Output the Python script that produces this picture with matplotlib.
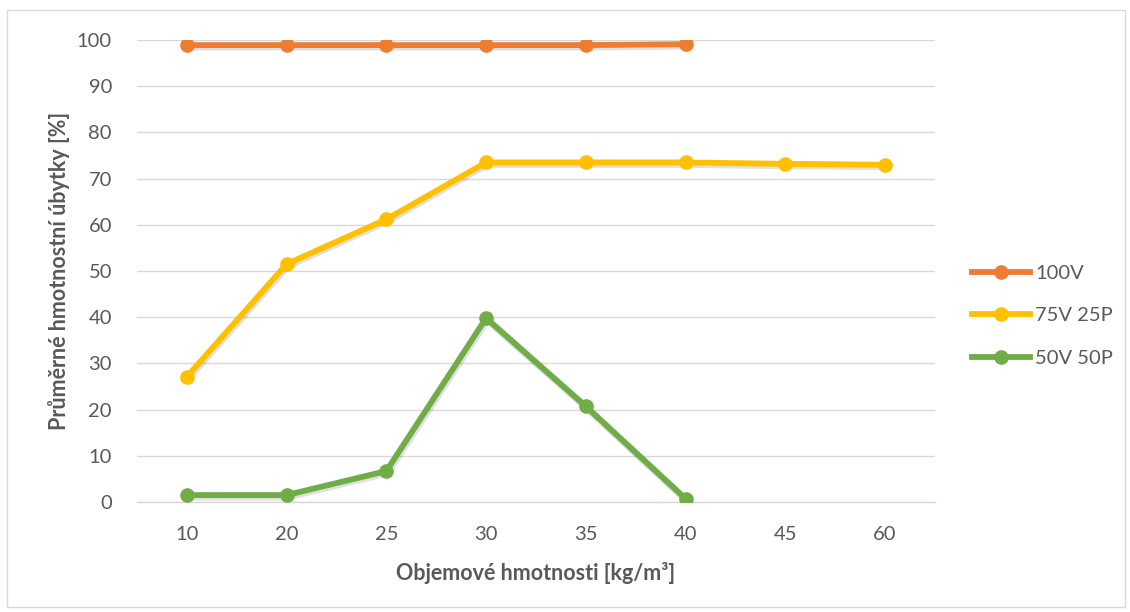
import matplotlib
matplotlib.use("Agg")
import matplotlib.pyplot as plt
import matplotlib.patheffects as pe
from matplotlib.patches import Rectangle

# Bulk density categories (kg/m3) and mean mass loss (%) per mixture
densities = ["10", "20", "25", "30", "35", "40", "45", "60"]
loss_100v = [98.9, 98.9, 98.9, 98.9, 98.9, 99.1]
loss_75v25p = [27.1, 51.5, 61.2, 73.5, 73.5, 73.5, 73.2, 73.0]
loss_50v50p = [1.5, 1.5, 6.7, 39.8, 20.7, 0.7]
series_names = ["100V", "75V 25P", "50V 50P"]
series_colors = ["#ED7D31", "#FFC000", "#70AD47"]

plt.rcParams["font.family"] = ["Lato", "DejaVu Sans"]
text_color = "#595959"

fig = plt.figure(figsize=(11.3, 6.12), dpi=100)
fig.patches.append(Rectangle((0.006, 0.008), 0.99, 0.975, transform=fig.transFigure,
                             fill=False, edgecolor="#D9D9D9", linewidth=1.0))
ax = fig.add_axes([0.1212, 0.1797, 0.7062, 0.7549])

x = list(range(len(densities)))
shadow = [pe.SimpleLineShadow(offset=(0.8, -1.2), shadow_color="#000000", alpha=0.12, linewidth=5.4),
          pe.Normal()]
for vals, name, col in zip([loss_100v, loss_75v25p, loss_50v50p], series_names, series_colors):
    xs = x[:len(vals)]
    ax.plot(xs, vals, color=col, linewidth=4.2, solid_capstyle="round",
            path_effects=shadow, zorder=3)
    ax.plot(xs, vals, linestyle="none", marker="o", markersize=9.5,
            markerfacecolor=col, markeredgecolor=col, zorder=4)
    # legend proxy: line with a marker in its middle
    ax.plot([], [], color=col, linewidth=4.2, marker="o", markersize=9.5,
            markerfacecolor=col, markeredgecolor=col, label=name)

ax.set_xlim(-0.5, len(densities) - 0.5)
ax.set_ylim(0, 100)
ax.set_xticks(x)
ax.set_xticklabels(densities)
ax.set_yticks(range(0, 101, 10))
ax.grid(axis="y", color="#D9D9D9", linewidth=1.0, zorder=0)
ax.set_axisbelow(True)
for s in ["top", "right", "left"]:
    ax.spines[s].set_visible(False)
ax.spines["bottom"].set_color("#D9D9D9")
ax.spines["bottom"].set_linewidth(1.0)
ax.tick_params(axis="both", length=0, labelsize=14.5, colors=text_color)
ax.tick_params(axis="x", pad=17)
ax.tick_params(axis="y", pad=18)

ax.set_xlabel("Objemové hmotnosti [kg/m³]", fontsize=15.5, fontweight="bold",
              color=text_color, labelpad=14)
ax.set_ylabel("Průměrné hmotnostní úbytky [%]", fontsize=15.5, fontweight="bold",
              color=text_color, labelpad=5)

leg = ax.legend(loc="center left", bbox_to_anchor=(1.046, 0.403), frameon=False,
                fontsize=14.5, labelcolor=text_color, handlelength=2.9, handletextpad=0.25,
                labelspacing=1.25, borderaxespad=0, borderpad=0)

fig.savefig("out.png", dpi=100, facecolor="white")
